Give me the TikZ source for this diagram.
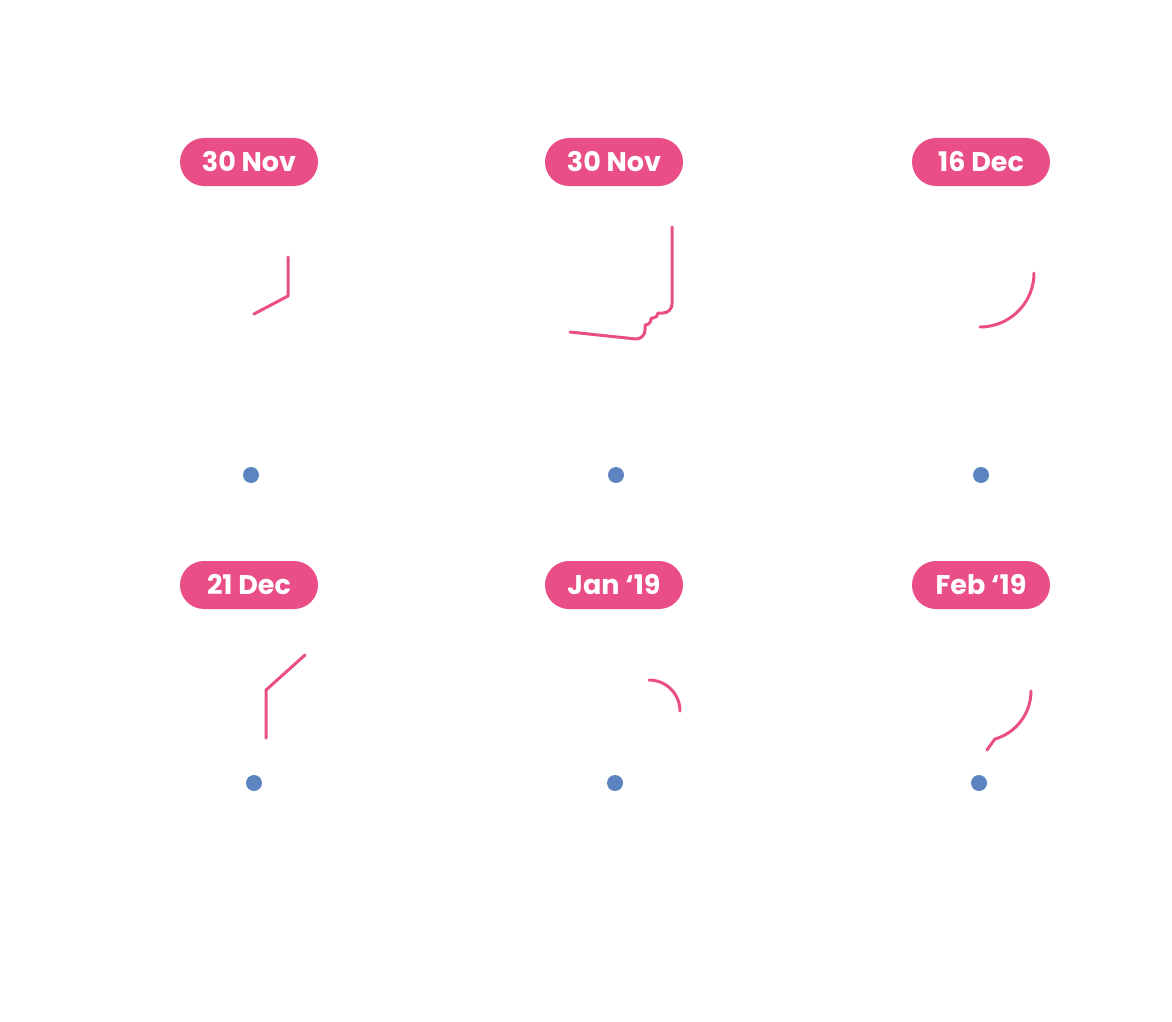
\documentclass[tikz,border=0pt]{standalone}
\usepackage{fontspec}
\setmainfont{Poppins}
\definecolor{pink}{HTML}{E94E87}
\definecolor{dotblue}{HTML}{5B84C1}
\begin{document}
\begin{tikzpicture}[x=1pt,y=-1pt,
  pill/.style={fill=pink,rounded corners=24pt,minimum width=138pt,minimum height=48pt,text=white,font=\fontsize{27}{30}\selectfont\bfseries,inner sep=0pt},
  curve/.style={draw=pink,line width=3pt,line cap=round,line join=round},
  dot/.style={circle,fill=dotblue,minimum size=16pt,inner sep=0pt}]
\useasboundingbox (0,0) rectangle (1172,1022);
\node[pill] (p1) at (249,162) {30 Nov};
\node[pill] (p2) at (614,162) {30 Nov};
\node[pill] (p3) at (981,162) {16 Dec};
\node[pill] (p4) at (249,585) {21 Dec};
\node[pill] (p5) at (614,585) {Jan ‘19};
\node[pill] (p6) at (981,585) {Feb ‘19};
\node[dot] (d1) at (251,475) {};
\node[dot] (d2) at (616,475) {};
\node[dot] (d3) at (981,475) {};
\node[dot] (d4) at (254,783) {};
\node[dot] (d5) at (615,783) {};
\node[dot] (d6) at (979,783) {};
\draw[curve] (288,257) -- (288,296) -- (254,314);
\draw[curve] (672,227) -- (672,304) arc[start angle=0,end angle=90,radius=9] -- (658,313)
  arc[start angle=0,end angle=90,radius=5] -- (651,318) -- (651,319)
  arc[start angle=0,end angle=90,radius=6] -- (645,325) -- (645,330)
  arc[start angle=0,end angle=90,radius=9] -- (570,332);
\draw[curve] (1034,273) arc[start angle=0,end angle=90,radius=54];
\draw[curve] (266,738) -- (266,690) -- (305,655);
\draw[curve] (649,680) arc[start angle=-90,end angle=0,radius=31];
\draw[curve] (1031,691) arc[start angle=0,end angle=74,radius=50] -- (987,750);
\end{tikzpicture}
\end{document}
